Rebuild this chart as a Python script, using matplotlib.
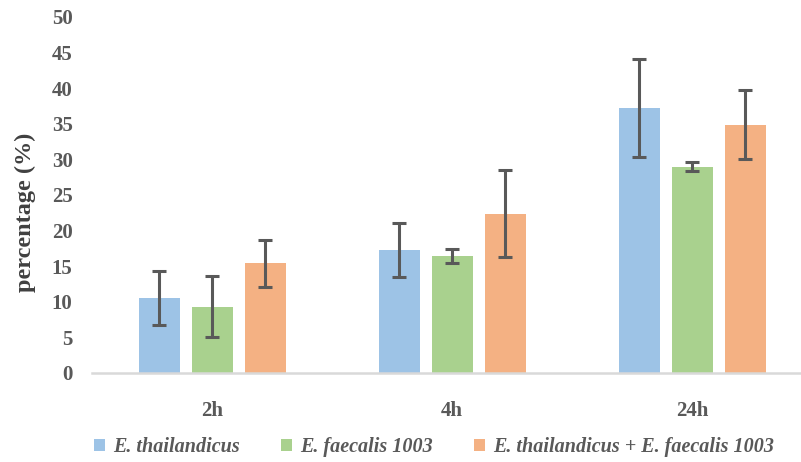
import numpy as np
from matplotlib import pyplot as plt
from matplotlib.patches import Patch

times = ['2h', '4h', '24h']
series = ['E. thailandicus', 'E. faecalis 1003', 'E. thailandicus + E. faecalis 1003']
means = [
    [10.5, 17.3, 37.2],
    [9.3, 16.4, 29.0],
    [15.4, 22.4, 34.9],
]
errs = [
    [3.8, 3.8, 6.9],
    [4.3, 1.0, 0.6],
    [3.3, 6.1, 4.8],
]
colors = ['#9DC3E6', '#A9D18E', '#F4B183']

plt.rcParams['font.family'] = ['Liberation Serif', 'DejaVu Serif']

fig = plt.figure(figsize=(8.01, 4.62), dpi=100)
ax = fig.add_axes([92/801, 89/462, 709/801, 356/462])

x = np.arange(len(times))
w = 53/240
for i in range(3):
    ax.bar(x + (i - 1)*w, means[i], width=41/240, color=colors[i],
           yerr=errs[i], error_kw=dict(ecolor='#595959', elinewidth=2.2, capsize=5, capthick=2.2))

ax.set_xlim(-0.5, -0.5 + 709/240)
ax.set_ylim(0, 50)
ax.set_yticks(range(0, 51, 5))
ax.set_xticks(x)
ax.set_xticklabels(times)
ax.tick_params(axis='both', length=0, labelsize=15, labelcolor='#595959')
ax.tick_params(axis='y', pad=14)
ax.tick_params(axis='x', pad=20)
for lbl in ax.get_xticklabels() + ax.get_yticklabels():
    lbl.set_fontweight('bold')
for s in ['top', 'right', 'left']:
    ax.spines[s].set_visible(False)
ax.spines['bottom'].set_color('#D9D9D9')
ax.spines['bottom'].set_linewidth(1.8)

ax.set_ylabel('percentage (%)', fontsize=17.5, fontweight='bold', color='#404040')
ax.yaxis.set_label_coords(-56/709, 0.452)

handles = [Patch(facecolor=c) for c in colors]
fig.legend(handles, series, loc='center', bbox_to_anchor=(434/801, 1 - 447/462), ncol=3,
           frameon=False, handlelength=0.55, handleheight=0.55, handletextpad=0.4, columnspacing=2.05,
           prop=dict(family='Liberation Serif', style='italic', weight='bold', size=14.5),
           labelcolor='#595959')

fig.savefig('out.png', dpi=100)
